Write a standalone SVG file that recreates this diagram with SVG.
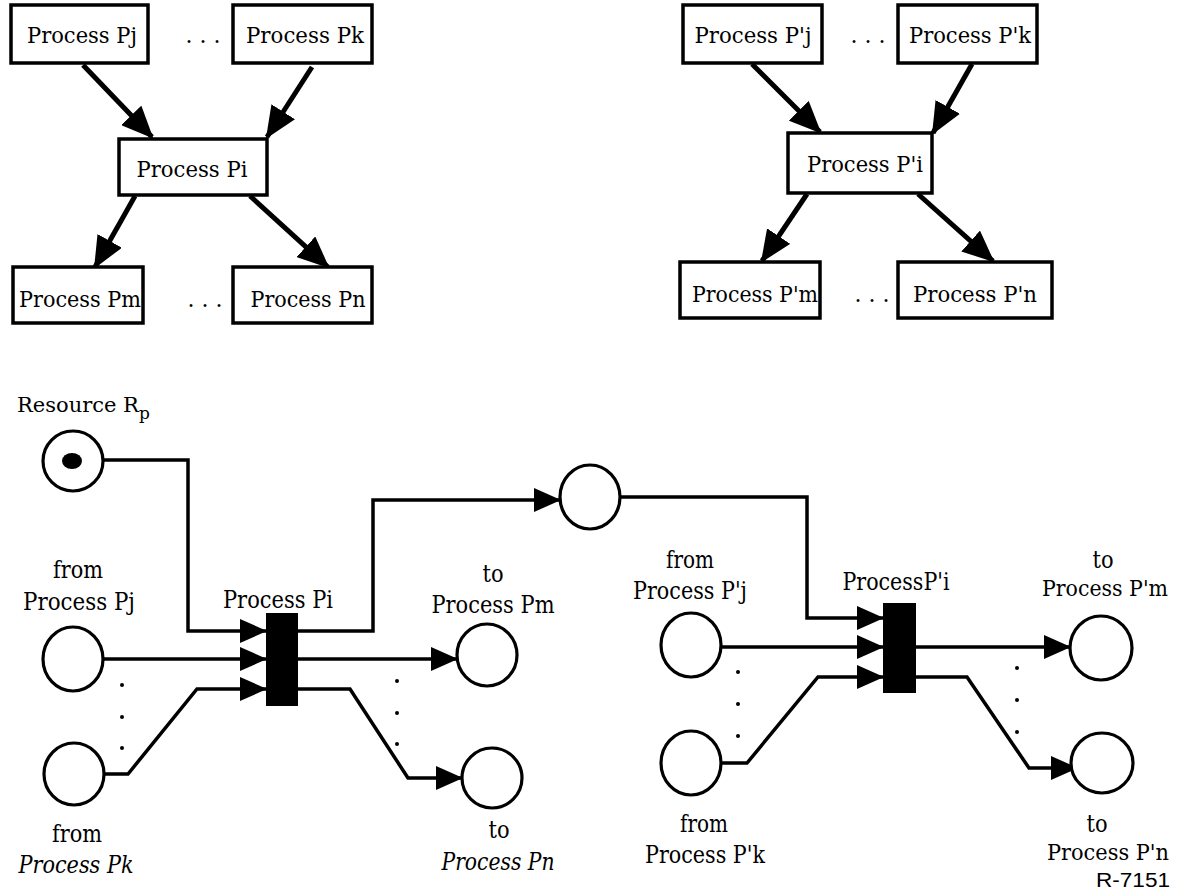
<svg xmlns="http://www.w3.org/2000/svg" width="1177" height="894" viewBox="0 0 1177 894">
<style>
text{font-family:"DejaVu Serif","Liberation Serif","Times New Roman",serif;fill:#000}
.t{font-size:22px;text-anchor:middle}
.b{font-size:24px;text-anchor:middle}
.r{font-size:22px}
.box{fill:#fff;stroke:#000;stroke-width:3.5}
.place{fill:#fff;stroke:#000;stroke-width:3.2}
.tr{fill:#000}
.big{fill:none;stroke:#000;stroke-width:5;marker-end:url(#ah1)}
.arc{fill:none;stroke:#000;stroke-width:3.5;stroke-linejoin:miter;marker-end:url(#ah2)}
.dot{fill:#000}
.i{font-style:italic}
text.sans{font-family:"Liberation Sans",Arial,sans-serif;font-size:20px;text-anchor:middle}
</style>
<defs>
<marker id="ah1" markerUnits="userSpaceOnUse" markerWidth="32" markerHeight="28" refX="30" refY="14" orient="auto"><path d="M0,0 L32,14 L0,28 z" fill="#000"/></marker>
<marker id="ah2" markerUnits="userSpaceOnUse" markerWidth="27" markerHeight="24" refX="26" refY="12" orient="auto"><path d="M0,0 L27,12 L0,24 z" fill="#000"/></marker>
</defs>
<rect width="1177" height="894" fill="#fff"/>

<g id="connectors">
<path class="big" d="M83,65 L152,137"/>
<path class="big" d="M312,67 L267,137"/>
<path class="big" d="M135,196 L95,267"/>
<path class="big" d="M250,196 L328,267"/>
<path class="big" d="M752,64 L820,132"/>
<path class="big" d="M972,64 L933,133"/>
<path class="big" d="M807,194 L762,261"/>
<path class="big" d="M918,194 L993,261"/>

<path class="arc" d="M103,460 H188 V631 H266"/>
<path class="arc" d="M103,659 H266"/>
<path class="arc" d="M104,774 H128 L197,689 H266"/>
<path class="arc" d="M298,631 H373 V500 H560"/>
<path class="arc" d="M298,659 H457"/>
<path class="arc" d="M298,689 H350 L408,778 H462"/>
<path class="arc" d="M620,497 H807 V618 H883"/>
<path class="arc" d="M721,647 H883"/>
<path class="arc" d="M721,763 H747 L818,677 H883"/>
<path class="arc" d="M916,647 H1070"/>
<path class="arc" d="M916,677 H967 L1029,768 H1077"/>
</g>

<g id="Pj"><rect class="box" x="11" y="5" width="137" height="58"/><text class="t" x="82" y="43" textLength="110" lengthAdjust="spacingAndGlyphs">Process Pj</text></g>
<g id="dotsTop1"><text class="t" x="203" y="43">. . .</text></g>
<g id="Pk"><rect class="box" x="233" y="5" width="139" height="58"/><text class="t" x="305" y="43" textLength="118" lengthAdjust="spacingAndGlyphs">Process Pk</text></g>
<g id="Pi"><rect class="box" x="119" y="139" width="148" height="56"/><text class="t" x="192" y="177" textLength="111" lengthAdjust="spacingAndGlyphs">Process Pi</text></g>
<g id="Pm"><rect class="box" x="13" y="267" width="130" height="56"/><text class="t" x="80" y="307" textLength="122" lengthAdjust="spacingAndGlyphs">Process Pm</text></g>
<g id="dotsTop2"><text class="t" x="205" y="307">. . .</text></g>
<g id="Pn"><rect class="box" x="233" y="267" width="139" height="56"/><text class="t" x="308" y="307" textLength="115" lengthAdjust="spacingAndGlyphs">Process Pn</text></g>

<g id="P2j"><rect class="box" x="683" y="5" width="139" height="58"/><text class="t" x="753" y="43" textLength="117" lengthAdjust="spacingAndGlyphs">Process P'j</text></g>
<g id="dotsTop3"><text class="t" x="868" y="43">. . .</text></g>
<g id="P2k"><rect class="box" x="898" y="5" width="139" height="58"/><text class="t" x="970" y="43" textLength="122" lengthAdjust="spacingAndGlyphs">Process P'k</text></g>
<g id="P2i"><rect class="box" x="788" y="133" width="144" height="60"/><text class="t" x="865" y="172" textLength="116" lengthAdjust="spacingAndGlyphs">Process P'i</text></g>
<g id="P2m"><rect class="box" x="680" y="262" width="140" height="56"/><text class="t" x="755" y="302" textLength="126" lengthAdjust="spacingAndGlyphs">Process P'm</text></g>
<g id="dotsTop4"><text class="t" x="872" y="302">. . .</text></g>
<g id="P2n"><rect class="box" x="898" y="262" width="154" height="56"/><text class="t" x="975" y="302" textLength="124" lengthAdjust="spacingAndGlyphs">Process P'n</text></g>

<g id="resource">
<text x="17" y="412" font-size="21">Resource R<tspan dy="7" font-size="17">p</tspan></text>
<ellipse class="place" cx="73" cy="461" rx="30" ry="30"/>
<ellipse cx="72" cy="461" rx="10" ry="8" fill="#000"/>
</g>
<g id="fromPj"><text class="b" x="78" y="578" textLength="50" lengthAdjust="spacingAndGlyphs">from</text><text class="b" x="79" y="610" textLength="112" lengthAdjust="spacingAndGlyphs">Process Pj</text><ellipse class="place" cx="73" cy="659" rx="30" ry="32"/></g>
<g id="fromPk"><ellipse class="place" cx="74" cy="774" rx="30" ry="31"/><text class="b" x="77" y="842" textLength="50" lengthAdjust="spacingAndGlyphs">from</text><text class="b i" x="76" y="873" textLength="115" lengthAdjust="spacingAndGlyphs">Process Pk</text></g>
<g id="transPi"><text class="b" x="278" y="608" textLength="110" lengthAdjust="spacingAndGlyphs">Process Pi</text><rect class="tr" x="266" y="613" width="32" height="93"/></g>
<g id="toPm"><text class="b" x="493" y="582" textLength="21" lengthAdjust="spacingAndGlyphs">to</text><text class="b" x="493" y="613" textLength="123" lengthAdjust="spacingAndGlyphs">Process Pm</text><ellipse class="place" cx="487" cy="655" rx="30" ry="31"/></g>
<g id="toPn"><ellipse class="place" cx="492" cy="778" rx="30" ry="30"/><text class="b" x="499" y="838" textLength="21" lengthAdjust="spacingAndGlyphs">to</text><text class="b i" x="498" y="870" textLength="113" lengthAdjust="spacingAndGlyphs">Process Pn</text></g>
<g id="midPlace"><ellipse class="place" cx="590" cy="497" rx="30" ry="32"/></g>
<g id="fromP2j"><text class="b" x="690" y="568" textLength="48" lengthAdjust="spacingAndGlyphs">from</text><text class="b" x="690" y="599" textLength="114" lengthAdjust="spacingAndGlyphs">Process P'j</text><ellipse class="place" cx="691" cy="645" rx="30" ry="32"/></g>
<g id="fromP2k"><ellipse class="place" cx="691" cy="763" rx="30" ry="32"/><text class="b" x="704" y="832" textLength="48" lengthAdjust="spacingAndGlyphs">from</text><text class="b" x="705" y="863" textLength="120" lengthAdjust="spacingAndGlyphs">Process P'k</text></g>
<g id="transP2i"><text class="b" x="896" y="590" textLength="107" lengthAdjust="spacingAndGlyphs">ProcessP'i</text><rect class="tr" x="883" y="603" width="33" height="90"/></g>
<g id="toP2m"><text class="b" x="1103" y="568" textLength="21" lengthAdjust="spacingAndGlyphs">to</text><text class="b r" x="1105" y="596" textLength="126" lengthAdjust="spacingAndGlyphs">Process P'm</text><ellipse class="place" cx="1101" cy="648" rx="31" ry="32"/></g>
<g id="toP2n"><ellipse class="place" cx="1102" cy="763" rx="31" ry="30"/><text class="b" x="1097" y="832" textLength="21" lengthAdjust="spacingAndGlyphs">to</text><text class="b r" x="1108" y="860" textLength="122" lengthAdjust="spacingAndGlyphs">Process P'n</text></g>

<g id="dots">
<circle class="dot" cx="122" cy="685" r="2"/><circle class="dot" cx="122" cy="717" r="2"/><circle class="dot" cx="122" cy="748" r="2"/>
<circle class="dot" cx="397" cy="681" r="2"/><circle class="dot" cx="397" cy="713" r="2"/><circle class="dot" cx="397" cy="744" r="2"/>
<circle class="dot" cx="738" cy="672" r="2"/><circle class="dot" cx="738" cy="704" r="2"/><circle class="dot" cx="738" cy="736" r="2"/>
<circle class="dot" cx="1017" cy="668" r="2"/><circle class="dot" cx="1017" cy="700" r="2"/><circle class="dot" cx="1017" cy="732" r="2"/>
</g>
<g id="label"><text class="sans" x="1133" y="887" textLength="74" lengthAdjust="spacingAndGlyphs">R-7151</text></g>
</svg>
